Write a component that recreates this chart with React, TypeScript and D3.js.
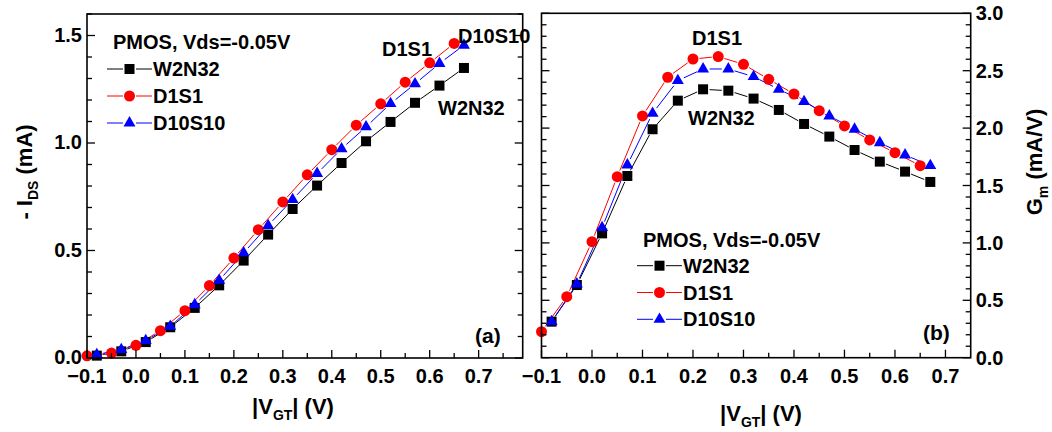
import React from "react";
import * as d3 from "d3";

// gate overdrive |V_GT| (V): circles sit on the 0.05 grid, squares/triangles are shifted by 0.02
const vCircle = [-0.1, -0.05, 0.0, 0.05, 0.1, 0.15, 0.2, 0.25, 0.3, 0.35, 0.4, 0.45, 0.5, 0.55, 0.6, 0.65];
const vShift = [-0.08, -0.03, 0.02, 0.07, 0.12, 0.17, 0.22, 0.27, 0.32, 0.37, 0.42, 0.47, 0.52, 0.57, 0.62, 0.67];

// (a) -I_DS (mA)
const idW2N32 = [0.011, 0.031, 0.074, 0.143, 0.233, 0.338, 0.453, 0.574, 0.693, 0.802, 0.907, 1.008, 1.098, 1.187, 1.267, 1.349];
const idD1S1 = [0.01, 0.023, 0.059, 0.127, 0.22, 0.337, 0.465, 0.597, 0.726, 0.852, 0.969, 1.083, 1.182, 1.283, 1.373, 1.463];
const idD10S10 = [0.016, 0.039, 0.081, 0.147, 0.248, 0.361, 0.489, 0.616, 0.737, 0.858, 0.973, 1.075, 1.183, 1.275, 1.37, 1.455];

// (b) Gm (mA/V)
const gmW2N32 = [0.314, 0.633, 1.083, 1.583, 1.99, 2.239, 2.338, 2.326, 2.257, 2.158, 2.036, 1.926, 1.809, 1.708, 1.621, 1.531];
const gmD1S1 = [0.227, 0.532, 1.011, 1.577, 2.106, 2.443, 2.602, 2.623, 2.556, 2.425, 2.297, 2.152, 2.019, 1.897, 1.786, 1.673];
const gmD10S10 = [0.314, 0.642, 1.133, 1.679, 2.129, 2.414, 2.515, 2.515, 2.448, 2.338, 2.231, 2.106, 1.99, 1.873, 1.766, 1.673];

const xTicks = [-0.1, 0.0, 0.1, 0.2, 0.3, 0.4, 0.5, 0.6, 0.7];
const xMinor = [-0.05, 0.05, 0.15, 0.25, 0.35, 0.45, 0.55, 0.65, 0.75];
const idTicks = [0.0, 0.5, 1.0, 1.5];
const gmTicks = [0.0, 0.5, 1.0, 1.5, 2.0, 2.5, 3.0];

const seriesNames = ["W2N32", "D1S1", "D10S10"];
const colors = ["#000000", "#ff0000", "#0000ff"];
const symbols = [d3.symbolSquare, d3.symbolCircle, d3.symbolTriangle];
const symSizes = [100, 95, 62];

const FONT = "'Liberation Sans', Arial, sans-serif";
const fmt = d3.format(".1f");

type Series = { x: number[]; y: number[] };

function Marker({ cx, cy, i }: { cx: number; cy: number; i: number }) {
  const path = d3.symbol().type(symbols[i]).size(symSizes[i])() as string;
  return <path d={path} transform={`translate(${cx},${cy})`} fill={colors[i]} />;
}

// Origin-style polyline: segments stop short of each marker
function GapLine({ pts, color, gap }: { pts: [number, number][]; color: string; gap: number }) {
  const segs = [];
  for (let k = 0; k < pts.length - 1; k++) {
    const [x1, y1] = pts[k];
    const [x2, y2] = pts[k + 1];
    const len = Math.hypot(x2 - x1, y2 - y1);
    if (len <= 2 * gap) continue;
    const ux = (x2 - x1) / len,
      uy = (y2 - y1) / len;
    segs.push(
      <line key={k} x1={x1 + ux * gap} y1={y1 + uy * gap} x2={x2 - ux * gap} y2={y2 - uy * gap}
        stroke={color} strokeWidth={1} />
    );
  }
  return <g>{segs}</g>;
}

function Legend({ x, y0, dy }: { x: number; y0: number; dy: number }) {
  return (
    <g>
      {seriesNames.map((n, i) => {
        const y = y0 + i * dy;
        return (
          <g key={n}>
            <line x1={x} x2={x + 16} y1={y} y2={y} stroke={colors[i]} strokeWidth={1} />
            <line x1={x + 29} x2={x + 45} y1={y} y2={y} stroke={colors[i]} strokeWidth={1} />
            <Marker cx={x + 22.5} cy={y} i={i} />
            <text x={x + 46} y={y + 7} fontSize={20} fontWeight="bold">{n}</text>
          </g>
        );
      })}
    </g>
  );
}

function Panel({
  x0, x1, y0, y1, xMax, yMax, yTicks, yMinorStep, series, labelSide,
}: {
  x0: number; x1: number; y0: number; y1: number; xMax: number; yMax: number;
  yTicks: number[]; yMinorStep: number; series: Series[]; labelSide: "left" | "right";
}) {
  const x = d3.scaleLinear().domain([-0.1, xMax]).range([x0, x1]);
  const y = d3.scaleLinear().domain([0, yMax]).range([y0, y1]);
  const yMinor = d3.range(0, yMax + 1e-9, yMinorStep).filter((v) => !yTicks.some((t) => Math.abs(t - v) < 1e-6));
  return (
    <g>
      {series.map((s, i) => (
        <GapLine key={i} color={colors[i]} gap={6.5}
          pts={s.x.map((v, k) => [x(v), y(s.y[k])] as [number, number])} />
      ))}
      {series.map((s, i) => (
        <g key={i}>{s.x.map((v, k) => <Marker key={k} cx={x(v)} cy={y(s.y[k])} i={i} />)}</g>
      ))}
      {/* x ticks, pointing inward */}
      {xTicks.map((t) => (
        <g key={t}>
          <line x1={x(t)} x2={x(t)} y1={y0} y2={y0 - 8} stroke="#000" strokeWidth={1.3} />
          <text x={x(t)} y={y0 + 25} textAnchor="middle" fontSize={20} fontWeight="bold">{fmt(t)}</text>
        </g>
      ))}
      {xMinor.filter((t) => x(t) < x1 - 2).map((t) => (
        <line key={t} x1={x(t)} x2={x(t)} y1={y0} y2={y0 - 5} stroke="#000" strokeWidth={1.3} />
      ))}
      {/* y ticks on both sides */}
      {yTicks.map((t) => (
        <g key={t}>
          <line x1={x0} x2={x0 + 8} y1={y(t)} y2={y(t)} stroke="#000" strokeWidth={1.3} />
          <line x1={x1} x2={x1 - 8} y1={y(t)} y2={y(t)} stroke="#000" strokeWidth={1.3} />
          {labelSide === "left" ? (
            <text x={x0 - 5} y={y(t) + 6} textAnchor="end" fontSize={20} fontWeight="bold">{fmt(t)}</text>
          ) : (
            <text x={x1 + 5} y={y(t) + 7} textAnchor="start" fontSize={20} fontWeight="bold">{fmt(t)}</text>
          )}
        </g>
      ))}
      {yMinor.map((t) => (
        <g key={t}>
          <line x1={x0} x2={x0 + 5} y1={y(t)} y2={y(t)} stroke="#000" strokeWidth={1.3} />
          <line x1={x1} x2={x1 - 5} y1={y(t)} y2={y(t)} stroke="#000" strokeWidth={1.3} />
        </g>
      ))}
      <rect x={x0} y={y1} width={x1 - x0} height={y0 - y1} fill="none" stroke="#000" strokeWidth={1.6} />
    </g>
  );
}

export default function App() {
  const seriesA: Series[] = [
    { x: vShift, y: idW2N32 },
    { x: vCircle, y: idD1S1 },
    { x: vShift, y: idD10S10 },
  ];
  const seriesB: Series[] = [
    { x: vShift, y: gmW2N32 },
    { x: vCircle, y: gmD1S1 },
    { x: vShift, y: gmD10S10 },
  ];
  return (
    <svg width={1052} height={432} style={{ position: "absolute", left: 0, top: 0, background: "#fff" }}
      fontFamily={FONT} fill="#000">
      <rect width={1052} height={432} fill="#fff" />
      {/* (a) */}
      <Panel x0={87} x1={522.7} y0={358} y1={14} xMax={0.79} yMax={1.6}
        yTicks={idTicks} yMinorStep={0.1} series={seriesA} labelSide="left" />
      <text x={113} y={49} fontSize={20} fontWeight="bold">PMOS, Vds=-0.05V</text>
      <Legend x={107} y0={69} dy={27} />
      <text x={382} y={56} fontSize={20} fontWeight="bold">D1S1</text>
      <text x={458} y={42.5} fontSize={20} fontWeight="bold">D10S10</text>
      <text x={438} y={115} fontSize={20} fontWeight="bold">W2N32</text>
      <text x={475} y={343} fontSize={21} fontWeight="bold">(a)</text>
      <text transform="translate(32,172) rotate(-90)" textAnchor="middle" fontSize={22} fontWeight="bold">
        - I<tspan fontSize={14} dy={6}>DS</tspan><tspan dy={-6}> (mA)</tspan>
      </text>
      <text x={293} y={414} textAnchor="middle" fontSize={22} fontWeight="bold">
        |V<tspan fontSize={14} dy={6}>GT</tspan><tspan dy={-6}>| (V)</tspan>
      </text>

      {/* (b) */}
      <Panel x0={541.5} x1={970.7} y0={357.7} y1={13.3} xMax={0.75} yMax={3.0}
        yTicks={gmTicks} yMinorStep={0.1} series={seriesB} labelSide="right" />
      <text x={692} y={45} fontSize={20} fontWeight="bold">D1S1</text>
      <text x={688} y={125} fontSize={20} fontWeight="bold">W2N32</text>
      <text x={643} y={246.5} fontSize={20} fontWeight="bold">PMOS, Vds=-0.05V</text>
      <Legend x={637} y0={265.7} dy={26.8} />
      <text x={923} y={340} fontSize={21} fontWeight="bold">(b)</text>
      <text transform="translate(1042,162) rotate(-90)" textAnchor="middle" fontSize={22} fontWeight="bold">
        G<tspan fontSize={14} dy={6}>m</tspan><tspan dy={-6}> (mA/V)</tspan>
      </text>
      <text x={761} y={421} textAnchor="middle" fontSize={22} fontWeight="bold">
        |V<tspan fontSize={14} dy={6}>GT</tspan><tspan dy={-6}>| (V)</tspan>
      </text>
    </svg>
  );
}
